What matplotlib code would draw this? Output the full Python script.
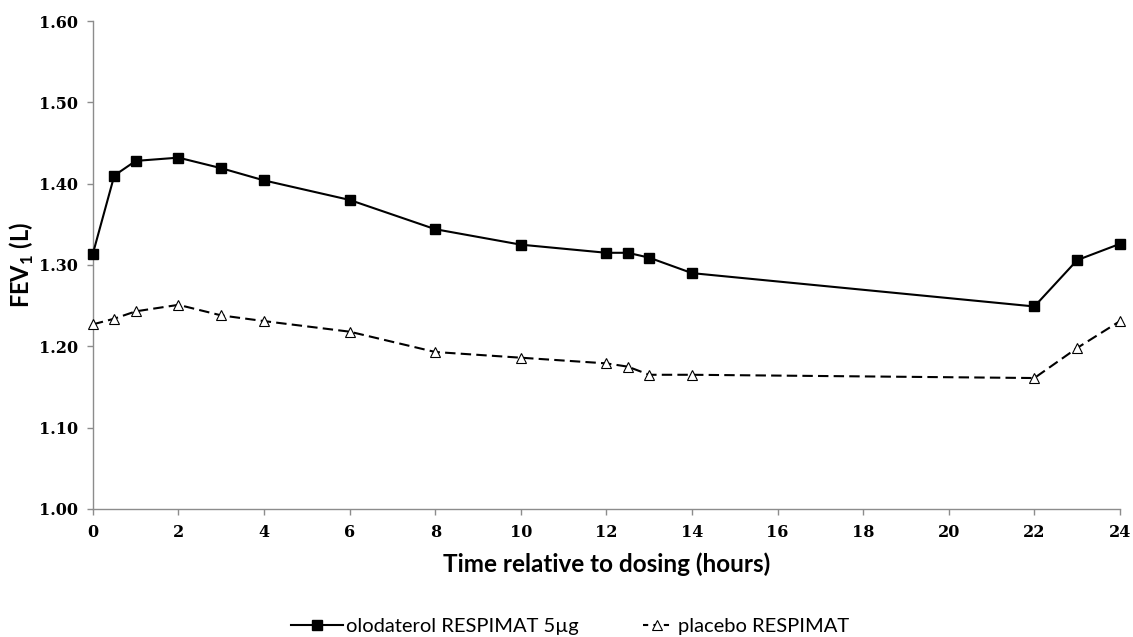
import matplotlib
matplotlib.use("Agg")
import matplotlib.pyplot as plt
from matplotlib.lines import Line2D

# hours after dosing
hours = [0, 0.5, 1, 2, 3, 4, 6, 8, 10, 12, 12.5, 13, 14, 22, 23, 24]

# FEV1 (L)
olodaterol = [1.314, 1.410, 1.428, 1.432, 1.419, 1.404, 1.380, 1.344,
              1.325, 1.315, 1.315, 1.309, 1.290, 1.249, 1.306, 1.326]
placebo = [1.227, 1.234, 1.243, 1.251, 1.238, 1.231, 1.218, 1.193,
           1.186, 1.179, 1.175, 1.165, 1.165, 1.161, 1.198, 1.231]

x_ticks = list(range(0, 25, 2))
y_ticks = [1.00, 1.10, 1.20, 1.30, 1.40, 1.50, 1.60]

plt.rcParams["font.weight"] = "bold"
plt.rcParams["mathtext.fontset"] = "custom"
plt.rcParams["mathtext.rm"] = "Lato:bold"
plt.rcParams["mathtext.bf"] = "Lato:bold"

fig = plt.figure(figsize=(11.33, 6.37), dpi=100)
ax = fig.add_axes([0.082, 0.201, 0.9065, 0.766])

ax.plot(hours, olodaterol, color="black", lw=1.5, marker="s", markersize=7.5,
        markerfacecolor="black", markeredgecolor="black", clip_on=False, zorder=3)
ax.plot(hours, placebo, color="black", lw=1.5, ls=(0, (5, 2.5)), marker="^",
        markersize=6.5, markerfacecolor="white", markeredgecolor="black",
        markeredgewidth=0.8, clip_on=False, zorder=3)

ax.set_xlim(0, 24)
ax.set_ylim(1.0, 1.6)
ax.set_xticks(x_ticks)
ax.set_yticks(y_ticks)
ax.set_yticklabels([f"{v:.2f}" for v in y_ticks])

for s in ["top", "right"]:
    ax.spines[s].set_visible(False)
for s in ["left", "bottom"]:
    ax.spines[s].set_color("#8c8c8c")
    ax.spines[s].set_linewidth(1.0)

ax.tick_params(axis="both", direction="out", length=4, width=1, color="#8c8c8c",
               labelsize=11.5, labelfontfamily="DejaVu Serif")
ax.tick_params(axis="x", pad=7)
ax.tick_params(axis="y", pad=7)

ax.set_xlabel("Time relative to dosing (hours)", family="Lato", fontweight="bold",
              fontsize=17.5, labelpad=8)
ax.set_ylabel(r"FEV$_1$ (L)", family="Lato", fontweight="bold", fontsize=17, labelpad=2)

# two legends so each entry gets its own handle length
leg_font = {"family": "Lato", "size": 14.5, "weight": "normal"}
h1 = Line2D([], [], color="black", lw=1.5, marker="s", markersize=7.5)
h2 = Line2D([], [], color="black", lw=1.5, ls=(0, (2.5, 2.5)), marker="^", markersize=6.5,
            markerfacecolor="white", markeredgewidth=0.8)
leg1 = fig.legend([h1], ["olodaterol RESPIMAT 5\u00b5g"], loc="center left",
                  bbox_to_anchor=(291 / 1133, 0.016), frameon=False, prop=leg_font,
                  handlelength=2.6, handletextpad=0.15, borderpad=0, borderaxespad=0)
leg2 = fig.legend([h2], ["placebo RESPIMAT"], loc="center left",
                  bbox_to_anchor=(643 / 1133, 0.016), frameon=False, prop=leg_font,
                  handlelength=1.4, handletextpad=0.35, borderpad=0, borderaxespad=0)

fig.savefig("out.png", dpi=100)
